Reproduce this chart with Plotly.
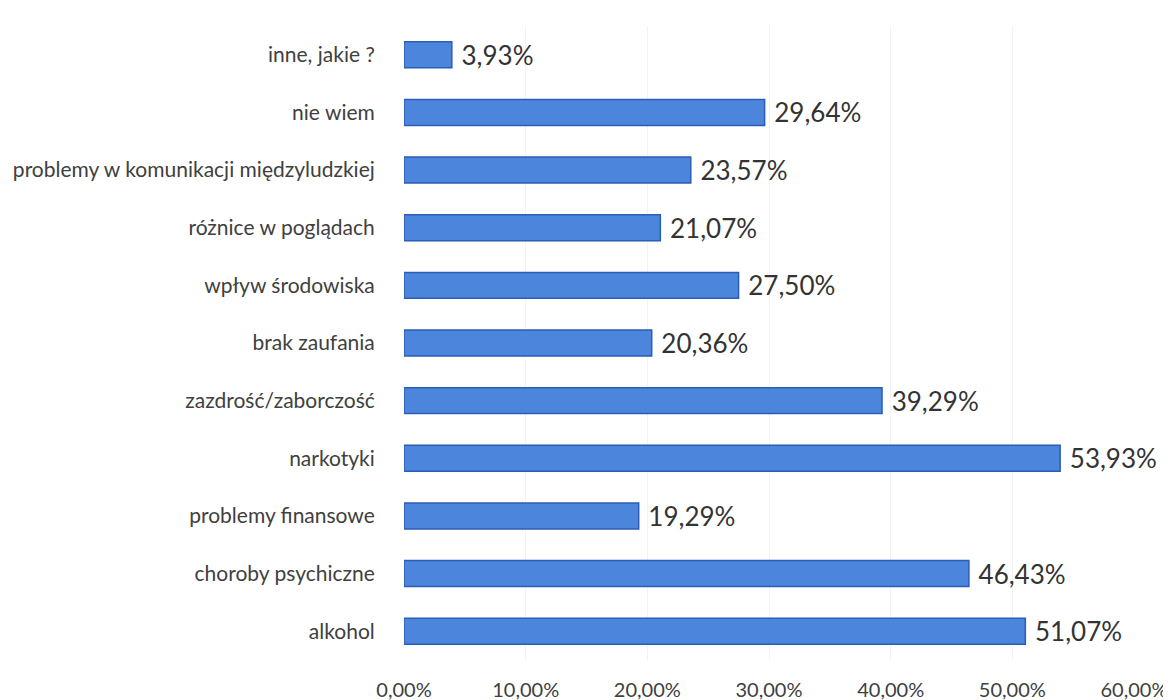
import plotly.graph_objects as go

categories = ["alkohol", "choroby psychiczne", "problemy finansowe", "narkotyki",
              "zazdrość/zaborczość", "brak zaufania", "wpływ środowiska",
              "różnice w poglądach", "problemy w komunikacji międzyludzkiej",
              "nie wiem", "inne, jakie ?"]
values = [51.07, 46.43, 19.29, 53.93, 39.29, 20.36, 27.50, 21.07, 23.57, 29.64, 3.93]
tick_vals = [0, 10, 20, 30, 40, 50, 60]
tick_text = ["0,00%", "10,00%", "20,00%", "30,00%", "40,00%", "50,00%", "60,00%"]

FONT = "Lato, Open Sans, sans-serif"

fig = go.Figure(go.Bar(
    x=values, y=categories, orientation="h",
    marker=dict(color="#4c86dc", line=dict(color="#2b5db4", width=1.5)),
    texttemplate=" %{x:.2f}%", textposition="outside",
    textfont=dict(size=26, color="#333333", family=FONT),
    constraintext="none",
    cliponaxis=False,
))

fig.update_layout(
    width=1163, height=692,
    margin=dict(l=396, r=37, t=18, b=40),
    plot_bgcolor="white", paper_bgcolor="white",
    bargap=0.55, separators=",.",
    showlegend=False,
    font=dict(family=FONT, color="#404040"),
)
fig.update_xaxes(range=[0, 60], tickvals=tick_vals, ticktext=tick_text,
                 showgrid=True, gridcolor="#f3f3f3", zeroline=False,
                 ticks="outside", ticklen=12, tickcolor="rgba(0,0,0,0)",
                 tickfont=dict(size=20, color="#404040"), automargin=False)
fig.update_yaxes(categoryorder="array", categoryarray=categories,
                 ticks="outside", ticklen=24, tickcolor="rgba(0,0,0,0)",
                 tickfont=dict(size=21, color="#404040"), showgrid=False,
                 automargin=False)

fig.write_html("out.html")
